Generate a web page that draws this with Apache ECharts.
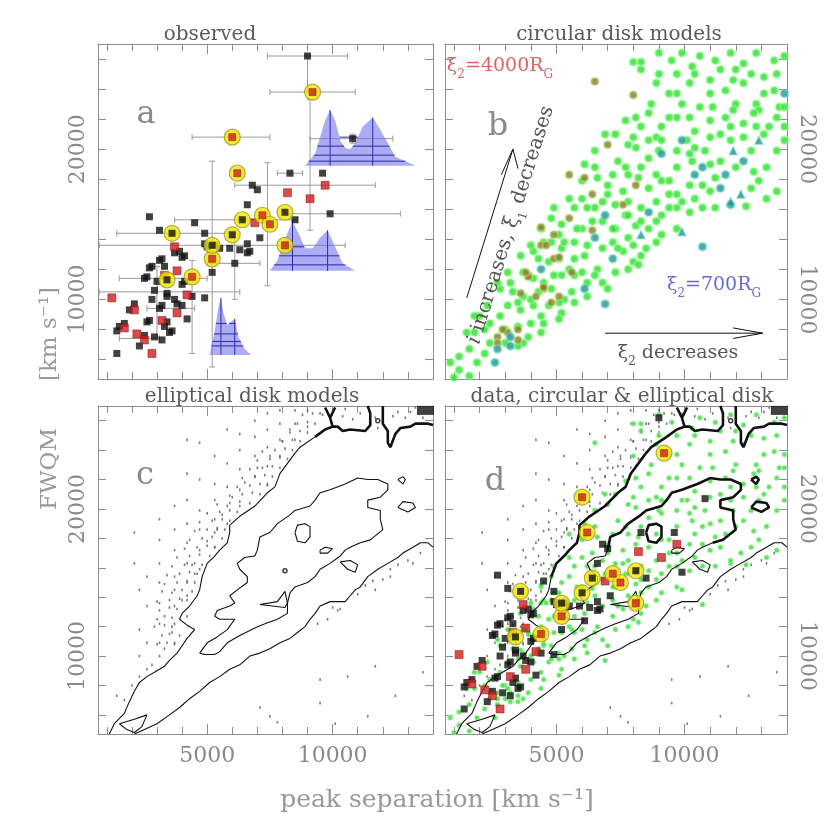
<!DOCTYPE html>
<html lang="en">
<head>
<meta charset="UTF-8">
<title>peak separation vs FWQM</title>
<script src="https://cdn.jsdelivr.net/npm/echarts@6/dist/echarts.min.js"></script>
<style>
    html, body { margin: 0; height: 100%; background: #fff; }
    #main { width: 830px; height: 830px; }
</style>
</head>
<body>
<div id="main"></div>
<script type="text/javascript">
// axis ranges (km/s)
var XMIN = 650, XMAX = 14000, YMIN = 4700, YMAX = 27000;

// ---- panel a : observed ----
var aBlack = [[9000,26200],[10800,20700],[8300,18400],[9600,18400],[6800,17600],[7000,17300],[6600,16300],[9900,15700],
    [8500,15300],[2700,15500],[4500,15100],[3100,14600],[4900,14400],[7100,14100],[6600,13700],[6300,13300],[5900,13400],
    [6600,13100],[3900,13200],[4000,12800],[6100,12400],[3200,12700],[2800,12200],[2600,11500],[3000,11200],[4000,11000],
    [2900,10600],[3400,10400],[3800,9700],[4900,10100],[2800,10000],[3200,9600],[2100,9700],[2600,8500],[3400,8500],
    [3600,7900],[1700,8400],[1400,7900],[2300,6900],[2900,7500],[3200,7300],[1400,6400],[4200,8700],[5000,13500],
    [5500,13400],[3100,12600],[3300,12200],[2700,12100],[2500,11400],[3400,10200],[3700,10000],[3100,9400],[4000,9600],
    [4400,10200],[1900,9300],[2700,8600],[2500,7600],[3500,7800],[3300,8200],[1500,8200],[4100,11200],[3700,13100],
    [4100,12900],[4900,13700],[5300,13600],[6700,13200],[5200,11800]];
var aRed = [[1200,10100],[3700,13500],[8200,17100],[9100,16700],[9700,17600],[6900,15100],[3800,11900],[3300,11600],
    [4200,10300],[3800,9100],[2100,9300],[3200,8600],[1700,8100],[2200,7700],[2500,7300],[2800,6400]];
var aCircRed = [[9200,23800],[6000,20800],[6200,18400],[7200,15600],[7500,15000],[8100,13600],[5200,12700],[4400,11500]];
var aCircBlack = [[3600,14400],[6400,15300],[6000,14300],[5200,13600],[3400,11300],[8100,15800]];
// error bars [x1, y1, x2, y2]
var aErr = [[7400,26200,10600,26200],[9000,26200,9000,23800],[7500,23800,10900,23800],[9100,23300,9100,14600],
    [4400,20800,7500,20800],[9100,20700,12400,20700],[10800,21000,10800,20400],[5200,19200,5200,5500],
    [7400,19100,7400,10900],[4400,12600,4400,6400],[700,13600,10500,13600],[8100,15700,12700,15700],
    [1400,14400,5900,14400],[3700,15300,8600,15300],[6100,17600,11700,17600],[7800,18400,8800,18400],
    [700,10500,6300,10500],[1500,11400,5000,11400],[6100,14600,6100,10000],[5000,12400,7100,12400],
    [2600,9400,4500,9400],[1500,7400,3100,7400],[3000,12200,3000,7500]];
// double peaked line profiles
var prof1 = [[8900,18900],[9300,19700],[9500,20800],[9700,21900],[9900,22600],[10100,21900],[10300,20600],[10500,20100],
    [10700,20000],[10900,20400],[11200,21500],[11600,22100],[11900,21300],[12200,20400],[12500,19500],[13300,18900]];
var prof2 = [[7500,11900],[7800,12600],[8100,14000],[8400,15200],[8700,14200],[8900,13400],[9200,13400],[9500,14100],
    [9800,14600],[10100,13500],[10400,12400],[10900,11900]];
var prof3 = [[5100,6300],[5300,7900],[5450,9500],[5550,10100],[5650,9100],[5800,8300],[5950,8500],[6100,8700],
    [6250,7500],[6500,6700],[6750,6300]];
var prof1Peaks = [[9900,22600],[11600,22100]], prof1Levels = [19200,19600,20200,20800];
var prof2Peaks = [[8400,15200],[9800,14600]], prof2Levels = [12300,12900,13500];
var prof3Peaks = [[5550,10100],[6100,8700]], prof3Levels = [6900,7200,7700,8400];

// ---- panel b : circular disk models ----
var bGreen = [[9000,26400],[9900,26400],[10600,26200],[11200,25900],[11800,26400],[12300,25700],[12800,26400],[13500,25900],
    [13900,26200],[8000,25800],[8300,25800],[9000,25000],[9700,25000],[9400,23700],[10200,24400],[11000,24600],[11400,25300],
    [10600,22800],[11600,23900],[12300,24400],[13100,24800],[13500,23900],[8700,23000],[9900,23000],[12000,23000],[12800,23000],
    [7700,21900],[8300,21500],[9100,21500],[9700,22100],[10400,21200],[11000,21900],[11600,22100],[12300,21700],[12900,22600],
    [13600,22100],[13900,21500],[6900,21000],[8000,20800],[8900,20800],[11800,20600],[13100,21000],[6500,19900],[7400,19200],
    [8100,20100],[8600,19400],[9700,18800],[10200,19700],[10800,19900],[11400,19200],[12600,19900],[6500,18800],[7800,18300],
    [8300,18800],[6000,17900],[7000,17600],[7600,17200],[8600,17400],[9100,17900],[9700,17000],[10200,17600],[11000,17200],
    [12600,17400],[12900,17900],[13200,16700],[13600,17200],[6800,16500],[7300,16300],[7800,16500],[8300,16100],[8900,16500],
    [9400,16100],[9900,16500],[4400,14700],[4900,16100],[6000,14700],[6400,15200],[7300,14700],[7700,15600],[8100,14900],
    [9100,15600],[9700,14700],[10200,15800],[10700,16100],[11200,16100],[12400,16200],[5100,14300],[5700,13800],[7200,13800],
    [7800,14100],[8900,13800],[3600,12900],[4100,13200],[4700,12500],[5200,13400],[5700,12700],[6100,12900],[6600,12000],
    [7600,13200],[8000,12500],[8300,12900],[3700,11800],[4900,11600],[5500,12000],[6000,11800],[6500,11600],[7300,11800],
    [7800,12000],[8200,12300],[2800,10700],[3200,11100],[3700,10200],[4300,10500],[4800,10700],[5300,10000],[6200,10200],
    [6800,11100],[3100,9600],[3600,9300],[4100,9600],[4700,9600],[5200,9100],[5700,9800],[2000,8900],[2400,8400],[3000,8000],
    [3500,8200],[4000,8400],[4500,8400],[5100,8700],[3900,7500],[4400,7800],[1600,6700],[2200,6400],[3700,7100],[1900,5800],
    [1200,5300],[1600,4900],[1000,4800],[4800,13800],[5300,13800],[5800,14700],[6200,13600],[6800,13400],[7400,13400],
    [8000,13600],[8500,13400],[4100,11400],[4500,11100],[5200,11600],[5700,11600],[6200,11100],[7000,10700],[3500,9800],
    [4000,10000],[5100,9800],[5600,10500],[2400,7100],[3000,7100],[3500,6900],[1800,7800],[6000,16700],[6500,16100],
    [7000,17000],[7800,15600],[8300,15200],[8900,15200],[9400,17000],[9700,16100],[10400,16700],[10700,17600],[11200,18100],
    [9700,19900],[10100,20600],[9100,20600],[8600,20600],[10400,20100],[11000,20800],[11400,21000],[11800,21500],[12300,20800],
    [12800,21500],[13300,21500],[13700,22800],[12000,25300],[10300,25500],[9500,25900],
    [8300,25300],[8900,24400],[9700,23700],[10400,25000],[11000,23700],[11900,24600],[12600,25000],[13100,23700],[13600,25000],
    [13900,22800],[12700,22400],[11900,22600],[11100,22800],[10200,22100],[9400,22100],[8600,22400],[8100,22100],[7300,21000],
    [7800,20300],[9000,19900],[10300,19200],[11000,19000],[12000,18800],[12700,18500],[13200,18800],[13600,19900],[13900,20600],
    [6100,19000],[6600,18100],[7200,18300],[7700,18800],[8200,18100],[8900,18300],[9400,17900],[6200,16100],[6800,15200],
    [7200,14700],[8600,14700],[9100,14300],[5500,16700],[5700,16100],[4800,15400],[5200,15000],[4500,13800],[4000,13600],
    [4300,12700],[5100,12700],[3100,11800],[2700,11100],[3300,10500],[2300,9600],[1800,8900],[1500,7800],[2200,8000],
    [2800,8900],[4400,8900],[1200,6200],[850,5800]];
var bBrown = [[6500,24500],[8000,23600],[7000,20300],[5500,18300],[6100,18100],[6400,17000],[8100,17600],[7600,16300],
    [5500,15400],[6400,14600],[4400,13600],[4900,12700],[5600,11800],[4500,10700],[5100,10200],[3900,11600],[3100,7800],
    [2700,7500],[3500,7300],[4400,14800],[4900,14300],[4600,13600],[3900,11500],[4500,10800],[4800,9800],[4200,10200],
    [3600,10400],[2900,8000],[2700,7100],[3500,8000],[3800,11800],[5100,12800]];
var bTealCirc = [[13900,23700],[9900,20600],[9100,19700],[10400,18300],[10700,18800],[11600,18300],[12300,19200],
    [11400,17400],[6900,15600],[8600,15800],[11800,16300],[6500,14100],[7200,12700],[4400,12000],[10700,13500],[6100,10700],
    [6900,9700],[3200,7500],[2700,6700],[3200,6900],[2600,5800]];
var bTealTri = [[9900,14500],[11800,16500],[12200,17000],[12900,20600],[11900,19900],[8300,14300]];
// annotation arrows
var arrowUpShaft = [[1500,10100],[3300,20000]];
var arrowUpHead = [[2850,18300],[3300,20000],[3500,18700]];
var arrowRightShaft = [[6900,7750],[13050,7750]];
var arrowRightHead = [[11900,8100],[13050,7750],[11900,7400]];

// ---- panel c : elliptical disk models ----
var cOuterUp = [[1100,4700],[1300,5400],[1700,6100],[1900,6900],[2100,7600],[2300,8200],[2600,8600],[3000,9000],[3300,9300],
    [3500,9700],[3800,10200],[4000,10700],[4200,11200],[4500,11800],[4200,12100],[3900,12500],[4000,12900],[4300,13400],
    [4600,14100],[4700,14500],[4800,15400],[5000,16300],[5300,16800],[5500,17200],[5800,17700],[5900,18400],[5900,18900],
    [6300,19500],[6900,20200],[7400,21100],[7700,21500],[7900,22400],[8200,23100],[8500,23800],[8700,24200],[9300,24900]];
var cTopA = [[9300,24900],[9700,25400],[10000,25600],[10200,25600],[10400,25300],[10700,25400],[11300,25300],[11500,25700],
    [11500,26500],[11400,27000]];
var cTopY = [[9700,26900],[9900,26200],[10100,26900],[9900,26200],[10000,25600]];
var cTopB = [[12000,27000],[12000,25800],[12200,25300],[12200,24500],[12300,24200],[12500,25100],[12700,25500],[13100,25600],
    [13300,25800],[13800,25800],[14000,25700]];
var cOuterLow = [[2100,4700],[2500,5000],[3000,5400],[3500,6000],[3900,6500],[4300,7100],[4700,7600],[5100,8200],[5500,8600],
    [5900,9100],[6300,9400],[6700,10000],[7100,10200],[7500,10500],[7900,10900],[8300,11200],[8600,11600],[8900,12000],
    [9100,12500],[9300,12900],[9500,13400],[9900,13700],[10500,13700],[10700,14100],[10900,14500],[11100,14700],[11400,15400],
    [11800,15900],[12200,16300],[12600,16700],[12800,17000],[13100,17300],[13500,17700],[13800,17700],[14000,17400]];
var cInner = [[4700,10200],[5000,10900],[5400,11300],[5800,11800],[6100,12500],[5500,12500],[5300,12700],[5400,13100],
    [5900,13400],[6100,13600],[5900,14100],[6200,14500],[6600,15000],[6600,15400],[6300,15900],[6200,16300],[6500,16700],
    [6900,16800],[7000,17200],[7100,18100],[7500,18400],[7800,19000],[8300,19600],[8500,19900],[9100,20200],[9300,20600],
    [9500,21100],[9900,21300],[10500,21700],[11000,22100],[11400,22000],[11800,22000],[12200,21700],[12200,21300],
    [11900,20800],[11400,20600],[11400,20100],[11900,19900],[11900,19300],[12000,18600],[11500,17900],[11100,17700],
    [10700,17400],[10500,17200],[10300,16800],[9900,16300],[9500,15900],[9300,15400],[9000,15000],[8500,14700],[8300,14300],
    [8200,13600],[8200,12900],[7800,12500],[7300,12200],[6900,11900],[6300,11400],[5800,10900],[5500,10300],[5300,10100],
    [4900,10100],[4700,10200]];
var cIsle1 = [[8500,18400],[8600,18900],[8900,19000],[9100,18800],[9100,18100],[8900,17700],[8600,17800],[8500,18400]];
var cIsle2 = [[9500,17200],[9700,17400],[10000,17300],[9800,17000],[9500,17000],[9500,17200]];
var cIsle3 = [[10300,16400],[10700,16500],[11000,16200],[10900,15700],[10600,15900],[10300,16400]];
var cIsle4 = [[7100,13500],[7800,13700],[8100,14400],[8200,13600],[8100,13300],[7100,13500]];
var cIsle5 = [[12600,22000],[12800,22200],[12900,22000],[12800,21700],[12600,22000]];
var cIsle6 = [[12600,20100],[12800,20500],[13200,20400],[13300,20100],[13000,19800],[12600,20100]];
var cIsle7 = [[1500,5400],[2100,5700],[2600,6000],[2400,5200],[2100,4800],[1800,5000],[1500,5400]];
var cSpecks = [[8100,15800],[11800,26000]];
var cCorner = [[13700,26700]];
var cDots = [[3100,19300],[3100,17900],[3100,16300],[3100,15000],[3100,13600],[3100,12200],[3100,10900],[3100,10000],
    [3700,20200],[3700,18600],[3700,17200],[3700,15400],[3700,14500],[3700,13400],[3700,12200],[3700,10900],
    [4200,24700],[4200,22400],[4200,20600],[4200,19000],[4200,17700],[4200,16300],[4200,15000],[4200,14100],[4200,12700],
    [4700,24500],[4700,22000],[4700,19900],[4700,18600],[4700,17200],[4700,15900],[5300,23600],[5300,21700],[5300,20600],
    [5300,19300],[5300,18400],[5300,17400],[5800,25400],[5800,23100],[5800,21500],[5800,20200],[5800,19000],[6300,25100],
    [6300,24000],[6300,22700],[6300,21300],[6300,20200],[6900,26000],[6900,24900],[6900,23600],[6900,22200],[7400,26500],
    [7400,25400],[7400,24200],[7400,22900],[7400,21700],[7900,26700],[7900,25800],[7900,24700],[7900,23600],[8500,26700],
    [8500,25800],[8500,24700],[9000,26700],[9000,25600],[2300,14500],[2300,11800],[2300,10000],[2300,8600],[2100,18400],
    [2100,16300],[2600,15400],[2600,13400],[2600,10900],[2600,9100],[1400,7300],[7100,6500],[7500,5900],[7800,5500],
    [9500,8400],[10600,8600],[11700,9300],[13600,8900],[12500,7300],[11400,5900],[9500,6800],[10100,5400],[12000,15200],
    [12300,15400],[11700,14500],[9400,12200],[9800,12500],[10200,13100],[5000,17800],[5400,18600],[5600,19600],[6000,20800],
    [6500,21800],[7000,22800],[7500,23600],[8000,24600],[8300,25400],[4400,16200],[4500,15600],[4000,13800],[3600,11600],
    [3300,10500],[2800,9400],[2000,8000],[1700,7000],[9500,26500],[10500,26800],[12600,26600],[13300,26900]];
// denser stipple hugging the upper edge of the outer contour
var cDotsBand = [[3700,10800],[3400,10900],[3000,10800],[3900,11400],[3500,11500],[3200,11400],[3600,12000],[3300,12100],
    [2900,12000],[3600,12600],[3300,12700],[3000,12500],[3800,13200],[3500,13300],[3100,13100],[4200,13800],[3900,13900],
    [3500,13800],[3000,13700],[4400,14400],[4000,14500],[3600,14300],[3200,14400],[4500,15000],[4200,15100],[3800,15000],
    [3300,14900],[4600,15600],[4300,15700],[3900,15600],[3400,15500],[4800,16200],[4500,16300],[4100,16200],[3600,16100],
    [5100,16800],[4700,16900],[4300,16800],[3800,16700],[5300,17400],[5000,17500],[4600,17400],[4100,17300],[5600,18000],
    [5200,18100],[4800,18000],[4300,17900],[5700,18600],[5400,18700],[5000,18600],[4500,18500],[5900,19200],[5600,19300],
    [5200,19200],[4700,19100],[6200,19800],[5900,19900],[5500,19800],[5000,19700],[6700,20400],[6300,20500],[5900,20400],
    [5400,20300],[7100,21000],[6800,21100],[6400,21000],[5900,20900],[7400,21600],[7100,21700],[6700,21600],[6200,21500],
    [7600,22200],[7300,22300],[6900,22200],[6400,22100],[7900,22800],[7600,22900],[7200,22800],[6700,22700],[8200,23400],
    [7900,23500],[7500,23400],[7000,23300],[8400,24000],[8100,24100],[7700,24000],[7200,23900],[8700,24600],[8400,24700],
    [8000,24600],[9000,25200],[8700,25300],[8300,25200],[9300,25800],[9000,25900],[8600,25800],[9600,26400],[9200,26500],
    [8800,26400],[10400,26300],[10800,26100],[11100,26500],[11700,26200],[11800,25500],[12400,26300],[12900,26200],
    [13100,26600],[13600,26200],[10000,13300],[10300,13200],[11000,14200],[11300,14800],[11600,15100],[12300,15900],
    [12600,16200],[13000,16500],[13500,17000],[13200,16300]];

var grids = [
    {left: 98, top: 44, width: 335, height: 335},
    {left: 445, top: 44, width: 342, height: 335},
    {left: 98, top: 406, width: 335, height: 328},
    {left: 445, top: 406, width: 342, height: 328}
];
var GRAY = '#8c8c8c';
var SERIF = 'DejaVu Serif';
function plain(v) { return String(Math.round(v)); }

function xAx(g, pos, labels) {
    return {type: 'value', gridIndex: g, position: pos, min: XMIN, max: XMAX, splitNumber: 3,
        axisLine: {show: true, onZero: false, lineStyle: {color: GRAY}},
        axisTick: {show: true, inside: true, length: 10, lineStyle: {color: GRAY}},
        minorTick: {show: true, splitNumber: 5, length: 7, lineStyle: {color: GRAY}},
        axisLabel: {show: labels, showMinLabel: false, showMaxLabel: false, color: '#8a8a8a', formatter: plain,
            fontFamily: SERIF, fontSize: 22, margin: 11},
        splitLine: {show: false}};
}
function yAx(g, pos, labels) {
    return {type: 'value', gridIndex: g, position: pos, min: YMIN, max: YMAX, splitNumber: 3,
        axisLine: {show: true, onZero: false, lineStyle: {color: GRAY}},
        axisTick: {show: true, inside: true, length: 8, lineStyle: {color: GRAY}},
        minorTick: {show: true, splitNumber: 5, length: 8, lineStyle: {color: GRAY}},
        axisLabel: {show: labels, showMinLabel: false, showMaxLabel: false, rotate: pos === 'left' ? 90 : -90,
            color: '#8a8a8a', formatter: plain, fontFamily: SERIF, fontSize: 22, margin: 9},
        splitLine: {show: false}};
}

var xAxes = [], yAxes = [];
for (var g = 0; g < 4; g++) {
    xAxes.push(xAx(g, 'bottom', g >= 2), xAx(g, 'top', false));
    yAxes.push(yAx(g, 'left', g === 0 || g === 2), yAx(g, 'right', g === 1 || g === 3));
}

function sc(g, data, size, sym, style, z) {
    return {type: 'scatter', xAxisIndex: 2 * g, yAxisIndex: 2 * g, data: data, symbol: sym,
        symbolSize: size, itemStyle: style, silent: true, z: z, animation: false};
}
function ln(g, data, w, z) {
    return {type: 'line', xAxisIndex: 2 * g, yAxisIndex: 2 * g, data: data, symbol: 'none',
        lineStyle: {color: '#111', width: w}, silent: true, z: z || 3, animation: false};
}

// error bars with small end caps
function errSeries(g) {
    return {type: 'custom', xAxisIndex: 2 * g, yAxisIndex: 2 * g, data: aErr, silent: true, z: 1,
        renderItem: function (params, api) {
            var p1 = api.coord([api.value(0), api.value(1)]);
            var p2 = api.coord([api.value(2), api.value(3)]);
            var vert = Math.abs(p1[0] - p2[0]) < Math.abs(p1[1] - p2[1]);
            var st = {stroke: '#9a9a9a', lineWidth: 1};
            var kids = [{type: 'line', shape: {x1: p1[0], y1: p1[1], x2: p2[0], y2: p2[1]}, style: st}];
            [p1, p2].forEach(function (p) {
                kids.push({type: 'line', style: st, shape: vert ?
                    {x1: p[0] - 3, y1: p[1], x2: p[0] + 3, y2: p[1]} :
                    {x1: p[0], y1: p[1] - 3, x2: p[0], y2: p[1] + 3}});
            });
            return {type: 'group', children: kids};
        }};
}

// blue profiles, hatched with horizontal and vertical lines
var profs = [[prof1, prof1Peaks, prof1Levels], [prof2, prof2Peaks, prof2Levels], [prof3, prof3Peaks, prof3Levels]];
function profSeries(g) {
    return {type: 'custom', xAxisIndex: 2 * g, yAxisIndex: 2 * g, data: [[0], [1], [2]], silent: true, z: 2,
        renderItem: function (params, api) {
            var p = profs[api.value(0)];
            var pts = p[0].map(function (d) { return api.coord(d); });
            var base = p[0][0][1];
            var st = {stroke: '#2a2aa8', lineWidth: 1};
            var kids = [{type: 'polygon', shape: {points: pts}, style: {fill: 'rgba(112,112,236,0.58)'}}];
            p[1].forEach(function (pk) {
                var a = api.coord([pk[0], base]), b = api.coord(pk);
                kids.push({type: 'line', shape: {x1: a[0], y1: a[1], x2: b[0], y2: b[1]}, style: st});
            });
            p[2].forEach(function (lv) {
                var yp = api.coord([p[0][0][0], lv])[1], xs = [];
                for (var i = 0; i < pts.length; i++) {
                    var u = pts[i], v = pts[(i + 1) % pts.length];
                    if ((u[1] - yp) * (v[1] - yp) < 0) xs.push(u[0] + (yp - u[1]) * (v[0] - u[0]) / (v[1] - u[1]));
                }
                xs.sort(function (m, n) { return m - n; });
                for (var k = 0; k + 1 < xs.length; k += 2) {
                    kids.push({type: 'line', shape: {x1: xs[k], y1: yp, x2: xs[k + 1], y2: yp}, style: st});
                }
            });
            return {type: 'group', children: kids};
        }};
}

var blackSq = {color: '#111'};
var redSq = {color: '#d21e1e', borderColor: '#7a1010', borderWidth: 0.6};
var yellow = {color: '#f4e600', borderColor: '#a09a24', borderWidth: 1.2};
function dataSeries(g) {
    return [
        sc(g, aBlack, 7, 'rect', blackSq, 5),
        sc(g, aRed, 8, 'rect', redSq, 5),
        sc(g, aCircRed.concat(aCircBlack), 16, 'circle', yellow, 6),
        sc(g, aCircRed, 7, 'rect', redSq, 7),
        sc(g, aCircBlack, 7, 'rect', blackSq, 7)
    ];
}
function contourSeries(g, bold) {
    var thin = 1.1, thick = bold ? 2.6 : thin;
    var out = [
        ln(g, cOuterUp, thin), ln(g, cOuterLow, thin), ln(g, cInner, thin),
        ln(g, cIsle1, bold ? thick : thin), ln(g, cIsle2, thin), ln(g, cIsle3, thin), ln(g, cIsle4, thin),
        ln(g, cIsle5, bold ? thick : thin), ln(g, cIsle6, bold ? thick : thin), ln(g, cIsle7, thin),
        ln(g, cTopA, 2.6), ln(g, cTopY, 2.6), ln(g, cTopB, 2.6),
        sc(g, cSpecks, 4, 'circle', {color: '#fff', borderColor: '#111', borderWidth: 1.5}, 3),
        sc(g, cCorner, [17, 9], 'rect', {color: '#111'}, 3)
    ];
    if (bold) {
        out.push(ln(g, cOuterUp.slice(20), thick, 4), ln(g, cInner.slice(18, 42), thick, 4));
    }
    return out;
}

var stipple = {color: '#5a5a5a'};
var greenStyle = {color: '#30dc30', borderColor: 'rgba(150,255,150,0.55)', borderWidth: 2.5};
var series = [
    errSeries(0), profSeries(0)
].concat(dataSeries(0)).concat([
    sc(1, bGreen, 7.5, 'circle', greenStyle, 3),
    sc(1, bBrown, 7.5, 'circle', {color: '#8a7632', borderColor: 'rgba(190,230,120,0.55)', borderWidth: 2.5}, 4),
    sc(1, bTealCirc, 7.5, 'circle', {color: '#2a8d88', borderColor: 'rgba(90,220,200,0.6)', borderWidth: 2.5}, 4),
    sc(1, bTealTri, 8, 'triangle', {color: '#2a8d88', borderColor: 'rgba(90,220,200,0.6)', borderWidth: 1.5}, 4),
    ln(1, arrowUpShaft, 1, 5), ln(1, arrowUpHead, 1, 5), ln(1, arrowRightShaft, 1, 5), ln(1, arrowRightHead, 1, 5),
    sc(2, cDots, [1.6, 2.6], 'rect', stipple, 2),
    sc(2, cDotsBand, [1.6, 2.6], 'rect', stipple, 2)
]).concat(contourSeries(2, false)).concat([
    sc(3, cDots, [1.6, 2.6], 'rect', stipple, 1),
    sc(3, cDotsBand, [1.6, 2.6], 'rect', stipple, 1),
    sc(3, bGreen.concat(bBrown, bTealCirc, bTealTri), 5, 'circle',
        {color: '#4ad84a', borderColor: 'rgba(170,255,170,0.5)', borderWidth: 1.5, opacity: 0.85}, 2)
]).concat(contourSeries(3, true)).concat(dataSeries(3));

function txt(x, y, text, size, color, extra) {
    var e = {type: 'text', x: x, y: y, silent: true, z: 100,
        style: {text: text, fontFamily: SERIF, fontSize: size, fill: color, align: 'center', verticalAlign: 'middle'}};
    if (extra) Object.keys(extra).forEach(function (k) {
        if (k === 'style') Object.assign(e.style, extra.style); else e[k] = extra[k];
    });
    return e;
}
function xiRich(color, size) {
    return {t: {fontFamily: SERIF, fontSize: size, fill: color, lineHeight: 22},
        s: {fontFamily: SERIF, fontSize: 12, fill: color, lineHeight: 30, verticalAlign: 'bottom'},
        it: {fontFamily: SERIF, fontSize: size, fill: color, fontStyle: 'italic', lineHeight: 22}};
}

var graphics = [
    txt(210, 35, 'observed', 20, '#5a5a5a'),
    txt(619, 35, 'circular disk models', 20, '#5a5a5a'),
    txt(252, 397, 'elliptical disk models', 20, '#5a5a5a'),
    txt(622, 397, 'data, circular & elliptical disk', 20, '#5a5a5a'),
    txt(146, 115, 'a', 32, '#8a8a8a'),
    txt(498, 127, 'b', 32, '#8a8a8a'),
    txt(145, 476, 'c', 32, '#8a8a8a'),
    txt(495, 482, 'd', 32, '#8a8a8a'),
    txt(500, 66, '{t|ξ}{s|2}{t|=4000R}{s|G}', 19, '#e06464', {style: {rich: xiRich('#e06464', 19)}}),
    txt(714, 285, '{t|ξ}{s|2}{t|=700R}{s|G}', 19, '#6a6ad6', {style: {rich: xiRich('#6a6ad6', 19)}}),
    txt(678, 353, '{t|ξ}{s|2}{t| decreases}', 19, '#555', {style: {rich: xiRich('#555', 19)}}),
    txt(511, 225, '{it|i}{t| increases, ξ}{s|1}{t| decreases}', 20, '#555',
        {rotation: 1.267, style: {rich: xiRich('#555', 20)}}),
    txt(437, 800, 'peak separation [km s⁻¹]', 25, '#999'),
    txt(50, 469, 'FWQM', 23, '#999', {rotation: Math.PI / 2}),
    txt(50, 334, '[km s⁻¹]', 23, '#999', {rotation: Math.PI / 2})
];

var chart = echarts.init(document.getElementById('main'));
chart.setOption({
    animation: false,
    backgroundColor: '#fff',
    grid: grids,
    xAxis: xAxes,
    yAxis: yAxes,
    series: series,
    graphic: {elements: graphics}
});
</script>
</body>
</html>
